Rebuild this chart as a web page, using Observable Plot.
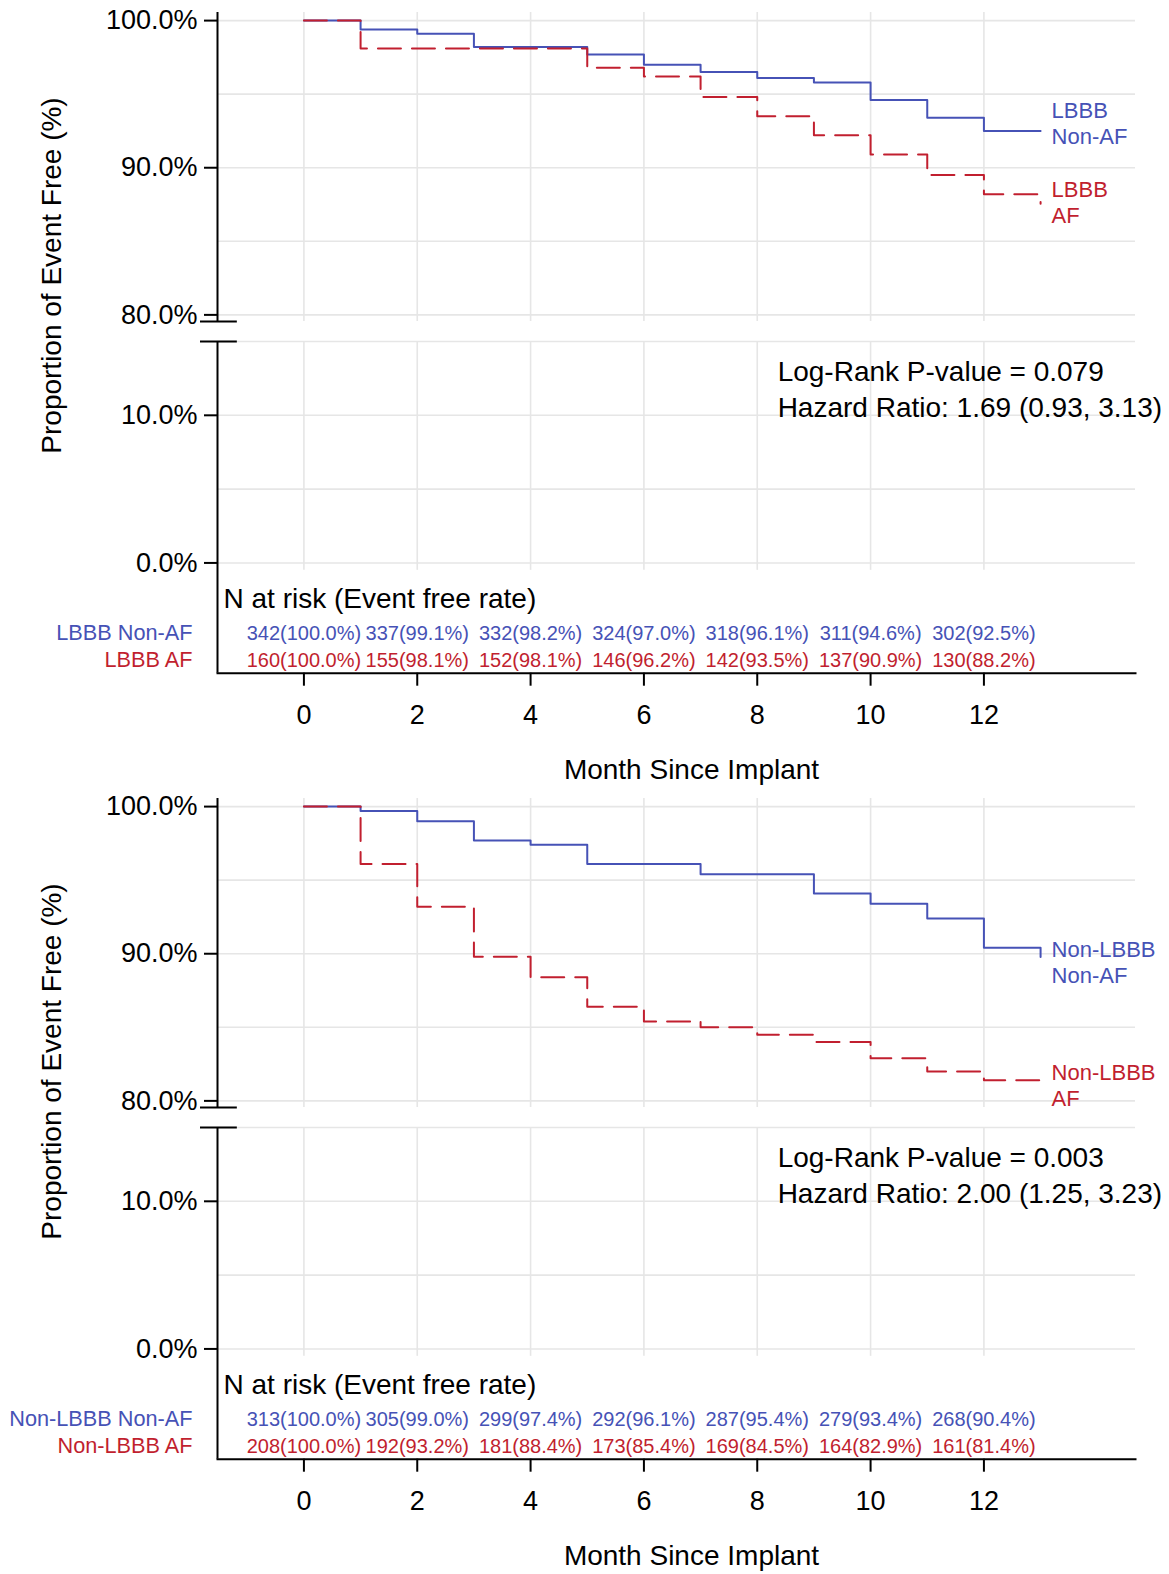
<!DOCTYPE html>
<html>
<head>
<meta charset="utf-8">
<script src="https://cdn.jsdelivr.net/npm/d3@7"></script>
<script src="https://cdn.jsdelivr.net/npm/@observablehq/plot@0.6"></script>
<style>
  body { margin: 0; background: #fff; font-family: "Liberation Sans", Arial, sans-serif; }
  .panel { position: relative; width: 1169px; height: 786px; }
  .panel svg { display: block; overflow: visible; }
</style>
</head>
<body>
<div id="chart"></div>
<script>
// Months at which the Kaplan-Meier curves step, and the months reported in the risk table
const tableMonths = [0, 2, 4, 6, 8, 10, 12];
const oddMonths = [1, 3, 5, 7, 9, 11, 13];
const gridMonths = [0, 2, 4, 6, 8, 10, 12];

// Panel 1: LBBB patients, with and without AF
const lbbbGroups = ["LBBB Non-AF", "LBBB AF"];
const lbbbNonAFAtRisk = [342, 337, 332, 324, 318, 311, 302];
const lbbbNonAFRate = [100.0, 99.1, 98.2, 97.0, 96.1, 94.6, 92.5];
const lbbbNonAFOddRate = [99.4, 98.2, 97.7, 96.5, 95.8, 93.4, 92.5];
const lbbbAFAtRisk = [160, 155, 152, 146, 142, 137, 130];
const lbbbAFRate = [100.0, 98.1, 98.1, 96.2, 93.5, 90.9, 88.2];
const lbbbAFOddRate = [98.1, 98.1, 96.8, 94.8, 92.2, 89.5, 87.55];
const lbbbStats = ["Log-Rank P-value = 0.079", "Hazard Ratio: 1.69 (0.93, 3.13)"];
const lbbbEndLabels = ["LBBB\nNon-AF", "LBBB\nAF"];

// Panel 2: non-LBBB patients, with and without AF
const nonLbbbGroups = ["Non-LBBB Non-AF", "Non-LBBB AF"];
const nonLbbbNonAFAtRisk = [313, 305, 299, 292, 287, 279, 268];
const nonLbbbNonAFRate = [100.0, 99.0, 97.4, 96.1, 95.4, 93.4, 90.4];
const nonLbbbNonAFOddRate = [99.7, 97.7, 96.1, 95.4, 94.1, 92.4, 89.77];
const nonLbbbAFAtRisk = [208, 192, 181, 173, 169, 164, 161];
const nonLbbbAFRate = [100.0, 93.2, 88.4, 85.4, 84.5, 82.9, 81.4];
const nonLbbbAFOddRate = [96.1, 89.8, 86.4, 85.0, 84.0, 82.0, 81.4];
const nonLbbbStats = ["Log-Rank P-value = 0.003", "Hazard Ratio: 2.00 (1.25, 3.23)"];
const nonLbbbEndLabels = ["Non-LBBB\nNon-AF", "Non-LBBB\nAF"];

// Broken y axis: upper (80–100%) and lower (0–15%) sections
const yTicksHigh = [80, 90, 100];
const yTicksLow = [0, 10];
const yGridHigh = [80, 85, 90, 95, 100];
const yGridLow = [0, 5, 10, 15];

// Styling
const seriesColors = ["#4652b6", "#c11f2f"];
const seriesDash = [null, "23,11"];
const font = "'Liberation Sans', Arial, sans-serif";
const gridStyle = {stroke: "#e6e6e6", strokeWidth: 1.6};
const axisStyle = {stroke: "#000", strokeWidth: 2};

// Shared geometry of the broken y axis and the month axis
const xDomain = [-1.525, 14.675];
const highDomain = [79.55, 100.55];
const lowDomain = [-1.19, 15];

const common = {
  width: 1169,
  marginLeft: 217,
  marginRight: 34,
  style: {fontFamily: font, fontSize: "27px", color: "#000", overflow: "visible"},
  x: {domain: xDomain, axis: null}
};

const yAxis = (ticks) => Plot.axisY({
  ticks, tickSize: 13, tickPadding: 7, strokeWidth: 2,
  tickFormat: (d) => d.toFixed(1) + "%", label: null, fontSize: 27
});

// Combine even-month table rates with odd-month step levels into one step series
function buildCurve(group, rates, oddRates) {
  const pts = [];
  tableMonths.forEach((m, i) => pts.push({group, month: m, pct: rates[i]}));
  oddMonths.forEach((m, i) => pts.push({group, month: m, pct: oddRates[i]}));
  return pts.sort((a, b) => a.month - b.month);
}

function drawPanel(cfg) {
  const panel = document.createElement("div");
  panel.className = "panel";

  const curves = cfg.groups.map((g, i) => buildCurve(g, cfg.rates[i], cfg.oddRates[i]));
  const ends = curves.map((c, i) => ({...c[c.length - 1], label: cfg.endLabels[i], color: seriesColors[i], dy: cfg.endLabelDy[i]}));

  // Upper section of the survival plot (80–100%)
  const upper = Plot.plot({
    ...common,
    height: 321,
    marginTop: 12,
    marginBottom: 0,
    y: {domain: highDomain, axis: null},
    marks: [
      Plot.ruleY(yGridHigh, gridStyle),
      Plot.ruleX(gridMonths, gridStyle),
      Plot.ruleX([xDomain[0]], axisStyle),
      Plot.ruleY([highDomain[0]], {x1: xDomain[0] - 0.3, x2: xDomain[0] + 0.35, ...axisStyle}),
      yAxis(yTicksHigh),
      ...curves.map((c, i) => Plot.line(c, {
        x: "month", y: "pct", curve: "step-after",
        stroke: seriesColors[i], strokeWidth: 2, strokeDasharray: seriesDash[i]
      })),
      ...ends.map((e) => Plot.text([e], {
        x: "month", y: "pct", text: "label", fill: e.color,
        textAnchor: "start", lineAnchor: "top", dx: 11, dy: e.dy, fontSize: 22, lineHeight: 1.2
      })),
      Plot.text(["Proportion of Event Free (%)"], {
        frameAnchor: "left", textAnchor: "middle", rotate: -90, dx: -165, dy: 108.5, fontSize: 28
      })
    ]
  });

  // Lower section of the survival plot (0–15%)
  const lower = Plot.plot({
    ...common,
    height: 259,
    marginTop: 20,
    marginBottom: 0,
    y: {domain: lowDomain, axis: null},
    marks: [
      Plot.ruleY(yGridLow, gridStyle),
      Plot.ruleX(gridMonths, {y1: -0.5, y2: lowDomain[1], ...gridStyle}),
      Plot.ruleX([xDomain[0]], axisStyle),
      Plot.ruleY([lowDomain[1]], {x1: xDomain[0] - 0.3, x2: xDomain[0] + 0.35, ...axisStyle}),
      yAxis(yTicksLow),
      Plot.text([cfg.stats.join("\n")], {
        x: cfg.statsAt.month, y: cfg.statsAt.pct, textAnchor: "start", lineAnchor: "top",
        lineHeight: 1.28, fontSize: 28
      })
    ]
  });

  // Number at risk table with the month axis
  const riskRows = [];
  cfg.groups.forEach((g, i) => tableMonths.forEach((m, j) => riskRows.push({
    group: g, month: m, n: cfg.atRisk[i][j], rate: cfg.rates[i][j], color: seriesColors[i]
  })));
  const groupColor = new Map(cfg.groups.map((g, i) => [g, seriesColors[i]]));

  const table = Plot.plot({
    ...common,
    height: 206,
    marginTop: 0,
    marginBottom: 113.3,
    y: {type: "point", domain: cfg.groups, range: [53, 80], padding: 0, axis: null},
    color: {type: "identity"},
    marks: [
      Plot.ruleX([xDomain[0]], axisStyle),
      Plot.frame({anchor: "bottom", ...axisStyle}),
      Plot.axisX({
        ticks: tableMonths, tickSize: 13, tickPadding: 19, strokeWidth: 2,
        label: null, fontSize: 27
      }),
      Plot.text(["N at risk (Event free rate)"], {
        frameAnchor: "top-left", textAnchor: "start", lineAnchor: "top", dx: 6, dy: 8, fontSize: 28
      }),
      Plot.text(cfg.groups, {
        y: (d) => d, frameAnchor: "left", textAnchor: "end", dx: -25,
        fill: (d) => groupColor.get(d), fontSize: 21.7
      }),
      Plot.text(riskRows, {
        x: "month", y: "group", fill: "color", fontSize: 20,
        text: (d) => `${d.n}(${d.rate.toFixed(1)}%)`
      }),
      Plot.text(["Month Since Implant"], {
        frameAnchor: "bottom", lineAnchor: "middle", dx: 15, dy: 97, fontSize: 28
      })
    ]
  });

  panel.append(upper, lower, table);
  return panel;
}

const chart = document.getElementById("chart");
chart.append(
  drawPanel({
    groups: lbbbGroups,
    atRisk: [lbbbNonAFAtRisk, lbbbAFAtRisk],
    rates: [lbbbNonAFRate, lbbbAFRate],
    oddRates: [lbbbNonAFOddRate, lbbbAFOddRate],
    stats: lbbbStats,
    statsAt: {month: 8.36, pct: 14.05},
    endLabels: lbbbEndLabels,
    endLabelDy: [-32, -25.5]
  }),
  drawPanel({
    groups: nonLbbbGroups,
    atRisk: [nonLbbbNonAFAtRisk, nonLbbbAFAtRisk],
    rates: [nonLbbbNonAFRate, nonLbbbAFRate],
    oddRates: [nonLbbbNonAFOddRate, nonLbbbAFOddRate],
    stats: nonLbbbStats,
    statsAt: {month: 8.36, pct: 14.05},
    endLabels: nonLbbbEndLabels,
    endLabelDy: [-18.8, -19]
  })
);
</script>
</body>
</html>
